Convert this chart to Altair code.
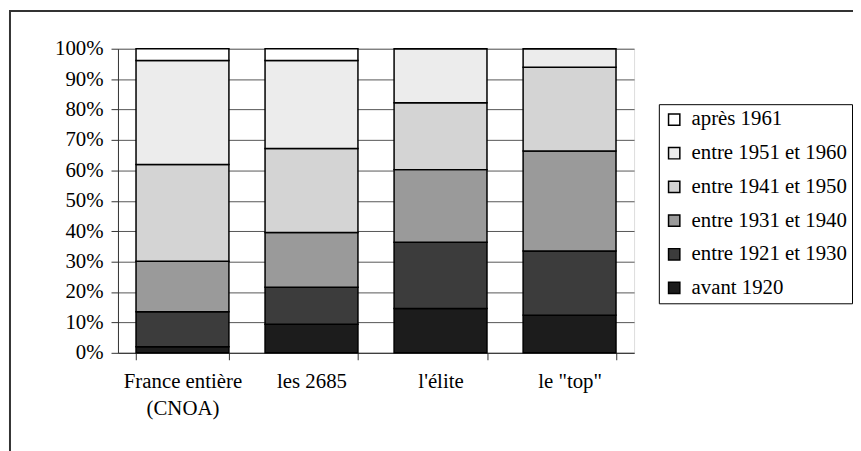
import altair as alt
import pandas as pd

categories = ["France entière (CNOA)", "les 2685", "l'élite", 'le "top"']
periods = ["avant 1920", "entre 1921 et 1930", "entre 1931 et 1940",
           "entre 1941 et 1950", "entre 1951 et 1960", "après 1961"]
# percentage per period (bottom to top) for each category
values = {
    "France entière (CNOA)": [2.0, 11.5, 16.6, 31.8, 34.2, 3.9],
    "les 2685": [9.4, 12.2, 18.0, 27.6, 28.9, 3.9],
    "l'élite": [14.6, 21.8, 23.9, 22.0, 17.8, 0.0],
    'le "top"': [12.4, 21.1, 32.9, 27.5, 6.1, 0.0],
}
fills = ["#1c1c1c", "#3c3c3c", "#9a9a9a", "#d4d4d4", "#ececec", "#ffffff"]

rows = []
for c in categories:
    for i, p in enumerate(periods):
        rows.append({"cat": c, "period": p, "idx": i, "val": values[c][i]})
df = pd.DataFrame(rows)

FONT = "'Liberation Serif', 'Times New Roman', serif"
FS = 21

bars = alt.Chart(df).mark_bar(stroke="black", strokeWidth=1.5).encode(
    x=alt.X("cat:N", sort=categories, title=None,
            scale=alt.Scale(paddingInner=0.28, paddingOuter=0.14),
            axis=alt.Axis(labelAngle=0, tickBand="extent", tickSize=7,
                          tickColor="#333", domainColor="#333",
                          labelPadding=11, labelFont=FONT, labelFontSize=FS,
                          labelColor="black", labelLineHeight=27,
                          labelExpr="datum.label == 'France entière (CNOA)' ? ['France entière', '(CNOA)'] : datum.label")),
    y=alt.Y("val:Q", stack="normalize", title=None,
            scale=alt.Scale(domain=[0, 1]),
            axis=alt.Axis(format=".0%", values=[i / 10 for i in range(11)],
                          labelOverlap=False,
                          tickSize=7, tickColor="#333", domainColor="#333",
                          gridColor="#555", gridWidth=1,
                          labelPadding=8, labelFont=FONT, labelFontSize=FS,
                          labelColor="black")),
    fill=alt.Fill("period:N",
                  scale=alt.Scale(domain=periods[::-1], range=fills[::-1]),
                  legend=alt.Legend(title=None, orient="none", legendX=546, legendY=56,
                                    strokeColor="black", fillColor="white", padding=5,
                                    symbolType="square", symbolSize=130,
                                    symbolStrokeColor="black", symbolStrokeWidth=1.5,
                                    labelFont=FONT, labelFontSize=FS, labelColor="black",
                                    labelOffset=7, rowPadding=12, labelLimit=300)),
    order=alt.Order("idx:Q", sort="ascending"),
)

frame = alt.Chart(pd.DataFrame({"a": [0]})).mark_rect(
    fill=None, stroke="#333", strokeWidth=2, clip=False
).encode(x=alt.value(-109), x2=alt.value(900), y=alt.value(-38), y2=alt.value(460))

chart = alt.layer(frame, bars).properties(
    width=521, height=307,
    autosize=alt.AutoSizeParams(type="none"),
    padding={"left": 111, "top": 39, "right": 221, "bottom": 97},
).configure_view(stroke="#888", strokeWidth=1.5).configure(background="white")

chart.save("out.html", embed_options={"renderer": "svg", "actions": False})
